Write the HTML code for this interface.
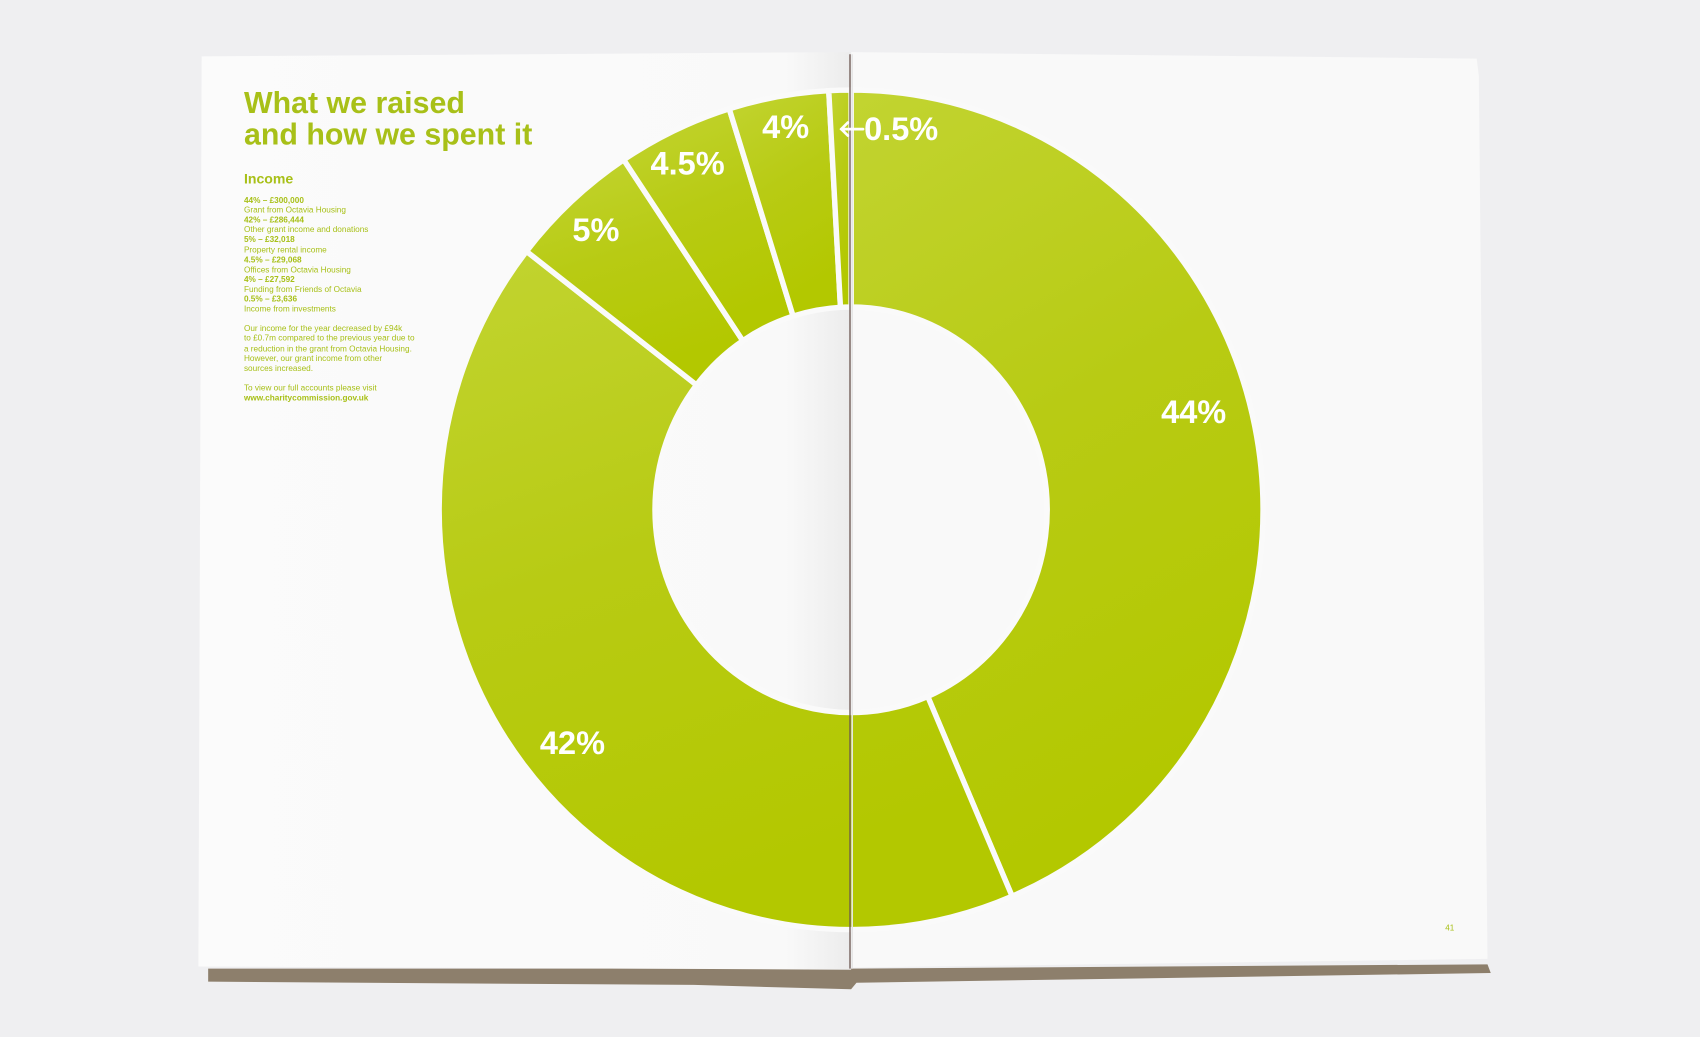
<!DOCTYPE html>
<html><head><meta charset="utf-8"><style>
html,body{margin:0;padding:0;background:#efeff1;}
svg{display:block}
text{font-family:"Liberation Sans",sans-serif;}
</style></head><body>
<svg width="1700" height="1037" viewBox="0 0 1568 956" preserveAspectRatio="none" xmlns="http://www.w3.org/2000/svg">
<defs>
<linearGradient id="g" x1="0" y1="0" x2="0.3" y2="1">
<stop offset="0" stop-color="#c2d431"/>
<stop offset="0.5" stop-color="#b8cb14"/>
<stop offset="1" stop-color="#b3c800"/>
</linearGradient>
<linearGradient id="pl" x1="0" y1="0" x2="1" y2="0">
<stop offset="0" stop-color="#fbfbfb"/><stop offset="0.9" stop-color="#f9f9f9"/><stop offset="1" stop-color="#ececec"/>
</linearGradient>
</defs>
<rect width="1568" height="956" fill="#efeff1"/>
<!-- shadow -->
<polygon points="192,893 785,893 1372,889 1375,897 790,906 785,912 640,908 192,905" fill="#8d7f6c"/>
<!-- pages -->
<polygon points="186,52 785,48 785,894 183,891" fill="url(#pl)"/>
<polygon points="785,48 1362,54 1364,70 1372,884 785,892" fill="#f9f9f9"/>
<!-- donut slices -->
<g fill="url(#g)" stroke="#fafafa" stroke-width="5" stroke-linejoin="miter">
<path d="M785,83 A380,387 0 0 1 933.5,826.2 L855.7,642.1 A181,187 0 0 0 785,283 Z"/>
<path d="M933.5,826.2 A380,387 0 0 1 485.6,231.7 L642.4,354.9 A181,187 0 0 0 855.7,642.1 Z"/>
<path d="M485.6,231.7 A380,387 0 0 1 575.3,147.3 L685.1,314.1 A181,187 0 0 0 642.4,354.9 Z"/>
<path d="M575.3,147.3 A380,387 0 0 1 672.6,100.3 L731.5,291.4 A181,187 0 0 0 685.1,314.1 Z"/>
<path d="M672.6,100.3 A380,387 0 0 1 764.4,83.6 L775.2,283.3 A181,187 0 0 0 731.5,291.4 Z"/>
<path d="M764.4,83.6 A380,387 0 0 1 785,83 L785,283 A181,187 0 0 0 775.2,283.3 Z"/>
</g>
<!-- fold -->
<line x1="784" y1="50" x2="784" y2="893" stroke="#6b5550" stroke-width="1.2"/>
<line x1="786" y1="50" x2="786" y2="893" stroke="#e6e6e6" stroke-width="1.5"/>
<!-- labels -->
<g fill="#fff" font-weight="bold" font-size="30">
<text x="1071" y="390">44%</text>
<text x="498" y="695">42%</text>
<text x="528" y="222">5%</text>
<text x="600" y="161">4.5%</text>
<text x="703" y="127">4%</text>
<text x="797" y="129">0.5%</text>
</g>
<g stroke="#fff" stroke-width="2.5" fill="none" stroke-linecap="round">
<line x1="776" y1="119" x2="796" y2="119"/><polyline points="782,113 776,119 782,125"/>
</g>
<!-- text -->
<g fill="#a8c018">
<text x="225" y="104" font-size="28" font-weight="bold">What we raised</text>
<text x="225" y="133" font-size="28" font-weight="bold">and how we spent it</text>
<text x="225" y="169" font-size="13" font-weight="bold">Income</text>
<g font-size="7.6">
<text x="225" y="187" font-weight="bold">44% – £300,000</text>
<text x="225" y="196">Grant from Octavia Housing</text>
<text x="225" y="205" font-weight="bold">42% – £286,444</text>
<text x="225" y="214">Other grant income and donations</text>
<text x="225" y="223" font-weight="bold">5% – £32,018</text>
<text x="225" y="233">Property rental income</text>
<text x="225" y="242" font-weight="bold">4.5% – £29,068</text>
<text x="225" y="251">Offices from Octavia Housing</text>
<text x="225" y="260" font-weight="bold">4% – £27,592</text>
<text x="225" y="269">Funding from Friends of Octavia</text>
<text x="225" y="278" font-weight="bold">0.5% – £3,636</text>
<text x="225" y="287">Income from investments</text>
<text x="225" y="305">Our income for the year decreased by £94k</text>
<text x="225" y="314">to £0.7m compared to the previous year due to</text>
<text x="225" y="324">a reduction in the grant from Octavia Housing.</text>
<text x="225" y="333">However, our grant income from other</text>
<text x="225" y="342">sources increased.</text>
<text x="225" y="360">To view our full accounts please visit</text>
<text x="225" y="369" font-weight="bold">www.charitycommission.gov.uk</text>
</g>
<text x="1333" y="858" font-size="7.5">41</text>
</g>
</svg>
</body></html>
